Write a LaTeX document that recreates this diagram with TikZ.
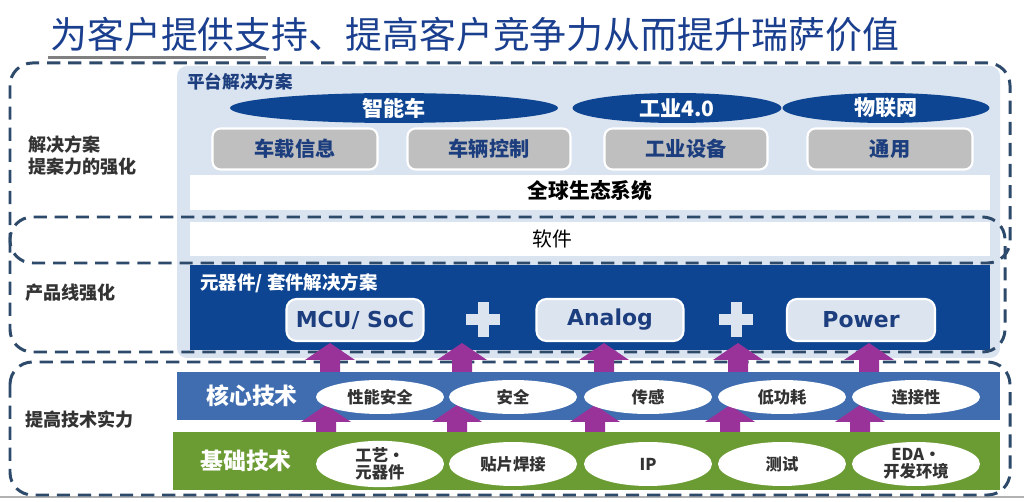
\documentclass[tikz,border=0pt]{standalone}
\usepackage{fontspec}
\setmainfont{Noto Sans CJK SC}
\newfontfamily\verdana{DejaVu Sans}
\usetikzlibrary{shapes.geometric}

\definecolor{titleblue}{HTML}{1B3F8F}
\definecolor{dashblue}{HTML}{2E4A6B}
\definecolor{paleblue}{HTML}{DAE3F0}
\definecolor{chipblue}{HTML}{DCE4F0}
\definecolor{deepblue}{HTML}{0D4592}
\definecolor{navytxt}{HTML}{1C3E7E}
\definecolor{midblue}{HTML}{3F6DB0}
\definecolor{leafgreen}{HTML}{6B9B33}
\definecolor{boxgray}{HTML}{BFBFBF}
\definecolor{arrowpurple}{HTML}{993399}
\definecolor{labelgray}{HTML}{333333}

\tikzset{
  dashbox/.style={draw=dashblue, line width=1.7pt, dash pattern=on 7.5pt off 4.5pt, rounded corners=0.45cm},
  lefttxt/.style={anchor=west, inner sep=0, align=left, text=labelgray, font=\fontsize{10.3}{12.5}\selectfont\bfseries},
  platell/.style={ellipse, fill=deepblue, inner sep=0, minimum height=0.6cm, text=white, font=\fontsize{12}{12}\selectfont\bfseries},
  graybox/.style={rectangle, rounded corners=0.16cm, fill=boxgray, draw=white, line width=1.2pt, minimum height=0.82cm, text=navytxt, font=\fontsize{11.5}{11.5}\selectfont\bfseries},
  chipbox/.style={rectangle, rounded corners=0.2cm, fill=chipblue, draw=white, line width=1.2pt, minimum height=0.84cm, text=navytxt, font=\fontsize{12.5}{12.5}\selectfont\verdana\bfseries},
  techell/.style={ellipse, fill=white, inner sep=0, minimum width=2.56cm, align=center, text=labelgray, font=\fontsize{9.3}{9.8}\selectfont\bfseries},
  bandtxt/.style={inner sep=0, text=white, font=\fontsize{13}{13}\selectfont\bfseries}
}

\begin{document}
\begin{tikzpicture}[x=0.02cm, y=-0.02cm]
\useasboundingbox (0,0) rectangle (1024,502);

% 标题
\node[anchor=west, inner sep=0, text=titleblue, font=\fontsize{21}{21}\selectfont] (title) at (50,34) {为客户提供支持、提高客户竞争力从而提升瑞萨价值};
\draw[gray, line width=1.7pt] (48,58) -- (266,58);

% 底色
\fill[paleblue, rounded corners=0.2cm] (177,66) rectangle (1000,358);
\fill[white] (190,175) rectangle (990,210);
\fill[white] (190,222) rectangle (990,256);
\fill[deepblue] (190,265) rectangle (990,350);
\fill[midblue] (177,372) rectangle (1000,420);
\fill[leafgreen] (173,432) rectangle (1000,490);
\draw[gray!60, line width=0.6pt] (0,497) -- (1024,497);

% 虚线框
\draw[dashbox] (10,63) rectangle (1010,263);
\draw[dashbox] (10,217) rectangle (1005,352);
\draw[dashbox] (10,362) rectangle (1010,495);

% 箭头
\foreach \ax in {330,462,604,738,869}
  \fill[arrowpurple] (\ax,343) -- (\ax+25,360) -- (\ax+10,360) -- (\ax+10,372) -- (\ax-10,372) -- (\ax-10,360) -- (\ax-25,360) -- cycle;
\foreach \ax in {326,457,595,730,860}
  \fill[arrowpurple] (\ax,405) -- (\ax+25,422) -- (\ax+10,422) -- (\ax+10,432) -- (\ax-10,432) -- (\ax-10,422) -- (\ax-25,422) -- cycle;

% 左侧说明
\node[lefttxt] (lsol) at (28,156) {解决方案\\提案力的强化};
\node[lefttxt] (lline) at (25,293) {产品线强化};
\node[lefttxt] (ltech) at (25,420) {提高技术实力};

% 平台解决方案
\node[anchor=west, inner sep=0, text=navytxt, font=\fontsize{10}{10}\selectfont\bfseries] (plat) at (187,82) {平台解决方案};
\node[platell, minimum width=6.56cm] (car) at (394,108) {智能车};
\node[platell, minimum width=4.18cm] (ind) at (677,108) {工业4.0};
\node[platell, minimum width=4.14cm] (iot) at (886,108) {物联网};
\node[graybox, minimum width=3.3cm] (info) at (295,149) {车载信息};
\node[graybox, minimum width=3.26cm] (ctrl) at (489,149) {车辆控制};
\node[graybox, minimum width=3.26cm] (equip) at (686,149) {工业设备};
\node[graybox, minimum width=3.3cm] (general) at (890,149) {通用};
\node[inner sep=0, text=black, font=\fontsize{11.8}{11.8}\selectfont\bfseries] (eco) at (590,191) {全球生态系统};
\node[inner sep=0, text=black, font=\fontsize{11.3}{11.3}\selectfont] (soft) at (552,239) {软件};

% 元器件/套件
\node[anchor=west, inner sep=0, text=white, font=\fontsize{10.5}{10.5}\selectfont\bfseries] (kit) at (200,283) {元器件/ 套件解决方案};
\node[chipbox, minimum width=2.74cm] (mcu) at (355,320) {MCU/ SoC};
\node[chipbox, minimum width=2.94cm] (analog) at (610,320) {Analog};
\node[chipbox, minimum width=2.96cm] (power) at (861,320) {Power};
\foreach \px in {483,736} {
  \fill[chipblue] (\px-17,314) rectangle (\px+17,325);
  \fill[chipblue] (\px-5.5,302) rectangle (\px+5.5,337);
}

% 核心技术 / 基础技术
\node[bandtxt] (core) at (252,396) {核心技术};
\node[bandtxt] (base) at (246,461) {基础技术};
\foreach \cx/\txt [count=\i] in {380/性能安全, 513/安全, 648/传感, 782/低功耗, 916/连接性}
  \node[techell, minimum height=0.68cm] (core\i) at (\cx,397) {\txt};
\foreach \cx/\txt [count=\i] in {380/{工艺・\\元器件}, 513/贴片焊接, 648/IP, 782/测试, 916/{EDA・\\开发环境}}
  \node[techell, minimum height=0.88cm] (base\i) at (\cx,464) {\txt};

\end{tikzpicture}
\end{document}
